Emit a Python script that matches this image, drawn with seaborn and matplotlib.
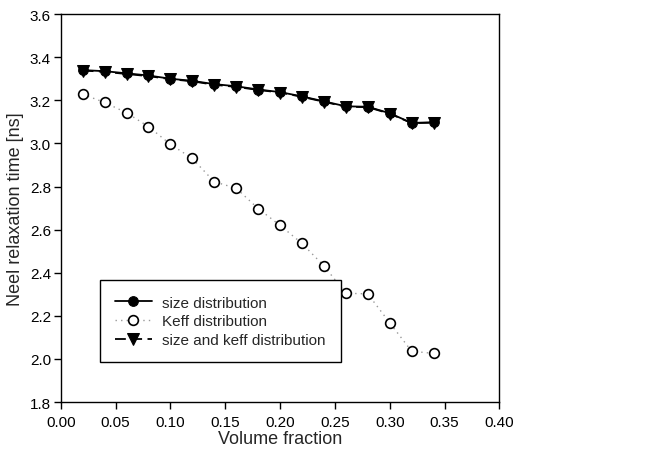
import matplotlib
matplotlib.use("Agg")
import matplotlib.pyplot as plt
import seaborn as sns
import pandas as pd

sns.set_theme(style="ticks")
plt.rcParams["font.family"] = ["Liberation Sans", "DejaVu Sans"]

volume_fraction = [0.02, 0.04, 0.06, 0.08, 0.10, 0.12, 0.14, 0.16, 0.18,
                   0.20, 0.22, 0.24, 0.26, 0.28, 0.30, 0.32, 0.34]
size_dist = [3.34, 3.335, 3.325, 3.315, 3.30, 3.29, 3.275, 3.265, 3.25,
             3.238, 3.218, 3.195, 3.172, 3.170, 3.14, 3.095, 3.098]
keff_dist = [3.228, 3.19, 3.142, 3.078, 2.996, 2.93, 2.822, 2.792, 2.698,
             2.62, 2.536, 2.432, 2.305, 2.302, 2.168, 2.036, 2.026]
size_keff_dist = [3.338, 3.332, 3.322, 3.312, 3.298, 3.288, 3.272, 3.262, 3.248,
                  3.236, 3.216, 3.193, 3.170, 3.168, 3.138, 3.094, 3.096]

df = pd.DataFrame({
    "vf": volume_fraction,
    "size": size_dist,
    "keff": keff_dist,
    "both": size_keff_dist,
})

fig = plt.figure(figsize=(6.46, 4.56), dpi=100)
ax = fig.add_axes([0.094, 0.116, 0.679, 0.851])

sns.lineplot(data=df, x="vf", y="size", ax=ax, color="black", lw=1.3,
             marker="o", markersize=7, markerfacecolor="black",
             markeredgecolor="black", label="size distribution")
sns.lineplot(data=df, x="vf", y="keff", ax=ax, color="#999999", lw=1.0,
             linestyle=(0, (1, 3)), marker="o", markersize=7,
             markerfacecolor="white", markeredgecolor="black",
             markeredgewidth=1.2, label="Keff distribution")
sns.lineplot(data=df, x="vf", y="both", ax=ax, color="black", lw=1.3,
             linestyle=(0, (6, 3)), marker="v", markersize=8,
             markerfacecolor="black", markeredgecolor="black",
             label="size and keff distribution")

ax.set_xlim(0.0, 0.40)
ax.set_ylim(1.8, 3.6)
ax.set_xticks([0.00, 0.05, 0.10, 0.15, 0.20, 0.25, 0.30, 0.35, 0.40])
ax.set_yticks([1.8, 2.0, 2.2, 2.4, 2.6, 2.8, 3.0, 3.2, 3.4, 3.6])
ax.xaxis.set_major_formatter(matplotlib.ticker.FormatStrFormatter("%.2f"))
ax.yaxis.set_major_formatter(matplotlib.ticker.FormatStrFormatter("%.1f"))
ax.tick_params(direction="out", length=5, width=1, labelsize=11, colors="black")
ax.tick_params(axis="y", pad=2)
ax.tick_params(axis="x", pad=4)
ax.set_xlabel("Volume fraction", fontsize=13, labelpad=1)
ax.set_ylabel("Neel relaxation time [ns]", fontsize=13, labelpad=4)
for s in ax.spines.values():
    s.set_color("black")
    s.set_linewidth(1.0)

leg = ax.legend(loc="lower left", bbox_to_anchor=(0.089, 0.103), borderaxespad=0,
                fontsize=11, frameon=True, fancybox=False, edgecolor="black",
                framealpha=1, borderpad=1.0, handlelength=2.4,
                handletextpad=0.7, labelspacing=0.3)
leg.get_frame().set_linewidth(1.0)

fig.savefig("out.png", dpi=100)
